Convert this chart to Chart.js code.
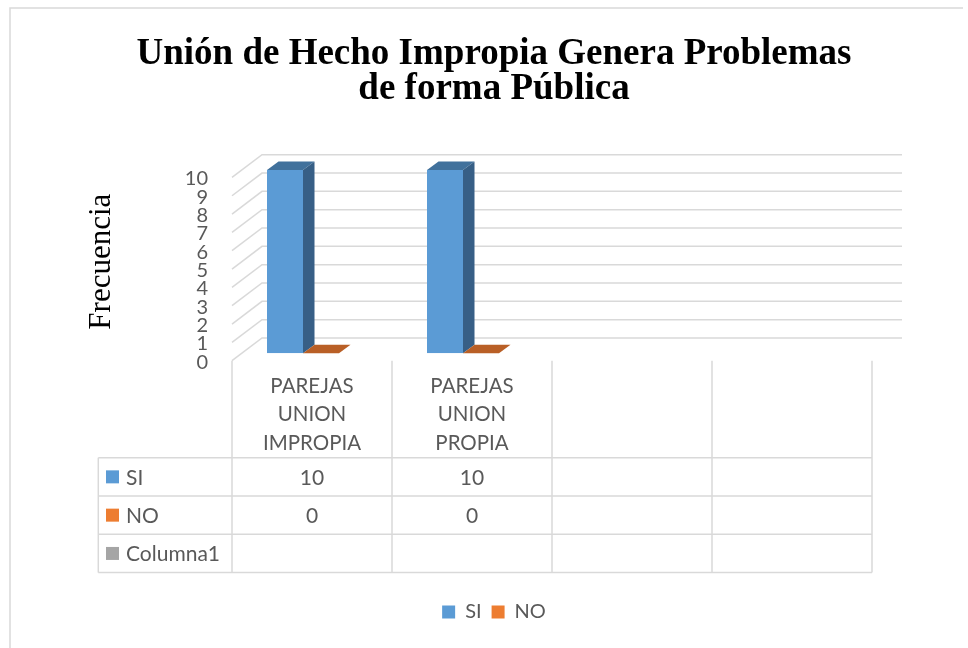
<!DOCTYPE html>
<html>
<head>
<meta charset="utf-8">
<script src="https://cdn.jsdelivr.net/npm/chart.js@4/dist/chart.umd.min.js"></script>
<style>
  html, body { margin: 0; padding: 0; background: #ffffff; }
  #wrap { width: 968px; height: 648px; }
</style>
</head>
<body>
<div id="wrap"><canvas id="c" width="968" height="648"></canvas></div>
<script>
// ---- data ----
const categories = [['PAREJAS', 'UNION', 'IMPROPIA'], ['PAREJAS', 'UNION', 'PROPIA'], '', ''];
const seriesNames = ['SI', 'NO', 'Columna1'];
const siValues = [10, 10, null, null];
const noValues = [0, 0, null, null];
const columna1Values = [null, null, null, null];
const yTickValues = [0, 1, 2, 3, 4, 5, 6, 7, 8, 9, 10];
const titleLines = ['Unión de Hecho Impropia Genera Problemas', 'de forma Pública'];
const yAxisTitle = 'Frecuencia';

// ---- styles ----
const seriesColors = ['#5B9BD5', '#ED7D31', '#A5A5A5'];
const topColors = ['#41719C', '#B95F26'];
const sideColors = ['#375F86', '#9E4F1E'];
const gridColor = '#D9D9D9';
const textColor = '#595959';
const sansFont = "Lato, 'Open Sans', sans-serif";
const serifFont = "'Liberation Serif', 'Times New Roman', serif";

const DEPTH_DX = 11.5, DEPTH_DY = -8.5;   // bar depth
const FRONT_DY = 7.4;                    // floor front plane offset from bar plane
const BACK_DY = -15.3;                   // back wall offset from bar plane
const WALL_DX = 30;                      // horizontal depth of walls
const COL_SHIFT = 9;                     // table columns vs bar scale
const TABLE_LEFT = 98.3, TABLE_TOP = 457.7, ROW_H = 38.3;

const allSeries = [siValues, noValues, columna1Values];

const bgPlugin = {
  id: 'bg',
  beforeDraw(chart) {
    const ctx = chart.ctx;
    ctx.save();
    ctx.fillStyle = '#ffffff';
    ctx.fillRect(0, 0, chart.width, chart.height);
    ctx.strokeStyle = gridColor;
    ctx.lineWidth = 1.5;
    ctx.beginPath();
    ctx.moveTo(10, 648);
    ctx.lineTo(10, 8);
    ctx.lineTo(963, 8);
    ctx.stroke();
    ctx.restore();
  }
};

const wallsPlugin = {
  id: 'walls',
  beforeDatasetsDraw(chart) {
    const ctx = chart.ctx, ys = chart.scales.y, xs = chart.scales.x;
    const frontLeft = xs.left + COL_SHIFT;
    const frontRight = xs.right + COL_SHIFT;
    ctx.save();
    ctx.strokeStyle = gridColor;
    ctx.lineWidth = 1.5;
    yTickValues.forEach(v => {
      const p = ys.getPixelForValue(v);
      const fy = p + FRONT_DY, by = p + BACK_DY;
      ctx.beginPath();
      ctx.moveTo(frontLeft, fy);
      ctx.lineTo(frontLeft + WALL_DX, by);
      ctx.lineTo(frontRight + WALL_DX, by);
      ctx.stroke();
    });
    ctx.restore();
  },
  afterDatasetsDraw(chart) {
    const ctx = chart.ctx;
    ctx.save();
    chart.data.datasets.forEach((ds, di) => {
      const meta = chart.getDatasetMeta(di);
      meta.data.forEach((el, i) => {
        const v = ds.data[i];
        if (v === null || v === undefined) return;
        const p = el.getProps(['x', 'y', 'base', 'width'], true);
        const x0 = p.x - p.width / 2, x1 = p.x + p.width / 2;
        const top = Math.min(p.y, p.base), base = Math.max(p.y, p.base);
        ctx.fillStyle = topColors[di];
        ctx.beginPath();
        ctx.moveTo(x0, top);
        ctx.lineTo(x1, top);
        ctx.lineTo(x1 + DEPTH_DX, top + DEPTH_DY);
        ctx.lineTo(x0 + DEPTH_DX, top + DEPTH_DY);
        ctx.closePath();
        ctx.fill();
        if (base - top > 0.5) {
          ctx.fillStyle = sideColors[di];
          ctx.beginPath();
          ctx.moveTo(x1, top);
          ctx.lineTo(x1 + DEPTH_DX, top + DEPTH_DY);
          ctx.lineTo(x1 + DEPTH_DX, base + DEPTH_DY);
          ctx.lineTo(x1, base);
          ctx.closePath();
          ctx.fill();
        }
      });
    });
    ctx.restore();
  }
};

const tablePlugin = {
  id: 'dataTable',
  afterDraw(chart) {
    const ctx = chart.ctx, ys = chart.scales.y, xs = chart.scales.x;
    const n = categories.length;
    const colW = (xs.right - xs.left) / n;
    const floorY = ys.getPixelForValue(0) + FRONT_DY;
    const bottom = TABLE_TOP + ROW_H * seriesNames.length;
    const colX = i => xs.left + COL_SHIFT + i * colW;
    ctx.save();
    ctx.strokeStyle = gridColor;
    ctx.lineWidth = 1.5;
    for (let i = 0; i <= n; i++) {
      ctx.beginPath();
      ctx.moveTo(colX(i), floorY);
      ctx.lineTo(colX(i), bottom);
      ctx.stroke();
    }
    ctx.beginPath();
    ctx.moveTo(TABLE_LEFT, TABLE_TOP);
    ctx.lineTo(TABLE_LEFT, bottom);
    ctx.stroke();
    for (let r = 0; r <= seriesNames.length; r++) {
      const yy = TABLE_TOP + r * ROW_H;
      ctx.beginPath();
      ctx.moveTo(TABLE_LEFT, yy);
      ctx.lineTo(colX(n), yy);
      ctx.stroke();
    }
    ctx.fillStyle = textColor;
    ctx.font = '20.5px ' + sansFont;
    ctx.textAlign = 'center';
    ctx.textBaseline = 'middle';
    categories.forEach((lab, i) => {
      const lines = Array.isArray(lab) ? lab : [lab];
      const cx = colX(i) + colW / 2;
      const lh = 28.3;
      const c = (floorY + TABLE_TOP) / 2 + 5.5;
      lines.forEach((t, k) => {
        ctx.fillText(t, cx, c + (k - (lines.length - 1) / 2) * lh);
      });
    });
    ctx.font = '21px ' + sansFont;
    seriesNames.forEach((name, r) => {
      const cy = TABLE_TOP + r * ROW_H + ROW_H / 2;
      ctx.fillStyle = seriesColors[r];
      ctx.fillRect(106, cy - 6.5, 13, 13);
      ctx.fillStyle = textColor;
      ctx.textAlign = 'left';
      ctx.fillText(name, 126, cy + 1);
      ctx.textAlign = 'center';
      allSeries[r].forEach((v, i) => {
        if (v === null || v === undefined) return;
        ctx.fillText(String(v), colX(i) + colW / 2, cy + 1);
      });
    });
    ctx.restore();
  }
};

const chart = new Chart(document.getElementById('c'), {
  type: 'bar',
  data: {
    labels: categories,
    datasets: [
      { label: seriesNames[0], data: siValues, backgroundColor: seriesColors[0], borderWidth: 0 },
      { label: seriesNames[1], data: noValues, backgroundColor: seriesColors[1], borderWidth: 0 }
    ]
  },
  options: {
    responsive: false,
    animation: false,
    devicePixelRatio: 1,
    layout: { padding: { left: 20, right: 0, top: 0, bottom: 16 } },
    datasets: { bar: { categoryPercentage: 0.45, barPercentage: 1.0 } },
    scales: {
      x: {
        display: true,
        grid: { display: false, drawTicks: false },
        border: { display: false },
        ticks: { display: false },
        afterFit(s) { s.height = 238.7; }
      },
      y: {
        min: 0, max: 10,
        afterBuildTicks(s) { s.ticks = yTickValues.map(v => ({ value: v })); },
        grid: { display: false, drawTicks: false },
        border: { display: false },
        ticks: { color: textColor, font: { family: sansFont, size: 20 }, padding: 15, labelOffset: 9, autoSkip: false },
        title: { display: true, text: yAxisTitle, color: '#000000', font: { family: serifFont, size: 31 }, padding: { top: 63, bottom: 0 } },
        afterFit(s) { s.width = 203; }
      },
      y2: {
        position: 'right',
        display: true,
        grid: { display: false, drawTicks: false },
        border: { display: false },
        ticks: { display: false },
        afterFit(s) { s.width = 105; }
      }
    },
    plugins: {
      title: {
        display: true,
        text: titleLines,
        color: '#000000',
        font: { family: serifFont, size: 37, weight: 'bold', lineHeight: '35px' },
        padding: { top: 37, bottom: 63 }
      },
      legend: {
        position: 'bottom',
        labels: {
          boxWidth: 13, boxHeight: 13, padding: 10,
          color: textColor, font: { family: sansFont, size: 20 }
        }
      },
      tooltip: { enabled: false }
    }
  },
  plugins: [bgPlugin, wallsPlugin, tablePlugin]
});
</script>
</body>
</html>
